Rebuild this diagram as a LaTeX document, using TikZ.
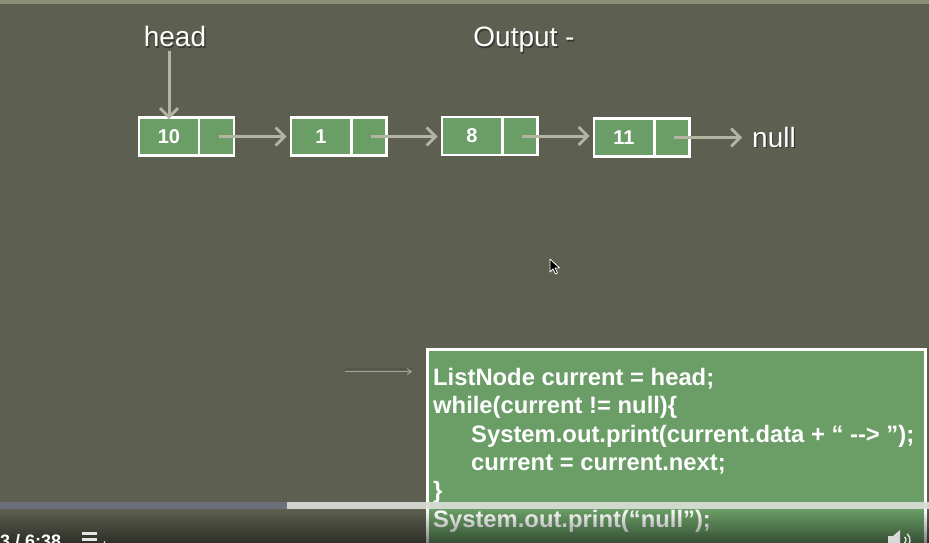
\documentclass[tikz,border=0pt]{standalone}
\usepackage{fontspec}
\setmainfont{Liberation Sans}
\usetikzlibrary{arrows.meta}
\definecolor{bg}{RGB}{93,95,80}
\definecolor{bgtop}{RGB}{140,143,120}
\definecolor{cellgreen}{RGB}{106,158,102}
\definecolor{ptrgray}{RGB}{180,180,162}
\definecolor{barGray}{RGB}{107,111,122}
\definecolor{barLight}{RGB}{218,221,214}
\tikzset{
  cell/.style={draw=white, line width=2.6pt, fill=cellgreen, inner sep=0pt,
    minimum height=38pt, text=white, font=\bfseries\fontsize{20}{22}\selectfont},
  datacell/.style={cell, minimum width=60pt},
  ptrcell/.style={cell, minimum width=35pt},
  ptr/.style={draw=ptrgray, line width=3pt, -{Straight Barb[length=9pt,width=18pt,line width=2.8pt]}},
  label/.style={text=white, inner sep=0pt, font=\fontsize{28}{32}\selectfont},
  shadowlabel/.style={text=black, opacity=0.4, inner sep=0pt, font=\fontsize{28}{32}\selectfont},
  codeline/.style={text=white, inner sep=0pt, anchor=base west, font=\bfseries\fontsize{23.8}{28}\selectfont},
  codebox/.style={draw=white, line width=3pt, fill=cellgreen, inner sep=0pt},
}
\begin{document}
\begin{tikzpicture}[x=1pt,y=-1pt]
\useasboundingbox (0,0) rectangle (929,543);
\clip (0,0) rectangle (929,543);
% background
\fill[bg] (0,0) rectangle (929,543);
\fill[bgtop] (0,0) rectangle (929,4);

% labels (with soft shadow)
\node[shadowlabel, anchor=base] at (176.2,48.2) {head};
\node[shadowlabel, anchor=base] at (525.2,48.2) {Output -};
\node[label, anchor=base] (head) at (175,47) {head};
\node[label, anchor=base] (output) at (524,47) {Output -};

% list nodes
\node[datacell] (n1d) at (169,136.5) {10};
\node[ptrcell]  (n1p) at (216.5,136.5) {};
\node[datacell] (n2d) at (321,136.5) {1};
\node[ptrcell]  (n2p) at (369,136.5) {};
\node[datacell] (n3d) at (472,136) {8};
\node[ptrcell]  (n3p) at (520,136) {};
\node[datacell] (n4d) at (624,137.5) {11};
\node[ptrcell]  (n4p) at (672,137.5) {};
\node[shadowlabel, anchor=west] at (753.2,138.2) {null};
\node[label, anchor=west] (null) at (752,137) {null};

% pointers
\draw[ptr, shorten <=4pt] (head.south -| n1d.north) -- ([yshift=-3pt]n1d.north);
\draw[ptr, shorten <=2pt, shorten >=3pt] (n1p.center) -- (n2d.west |- n1p.center);
\draw[ptr, shorten <=2pt, shorten >=3pt] (n2p.center) -- (n3d.west |- n2p.center);
\draw[ptr, shorten <=2pt, shorten >=3pt] (n3p.center) -- (n4d.west |- n3p.center);
\draw[ptr, shorten <=2pt, shorten >=10pt] (n4p.center) -- (null.west |- n4p.center);

% faded arrow pointing at the code
\coordinate (fa1) at (345,371.5);
\coordinate (fa2) at (412,371.5);
\draw[black!70, opacity=0.5, line width=2pt] ([yshift=3pt]fa1) -- ([yshift=3pt]fa2);
\draw[ptrgray, opacity=0.8, line width=1pt, -{Straight Barb[length=4pt,width=6pt]}] (fa1) -- (fa2);

% code box
\node[codebox, minimum width=498pt, minimum height=210pt, anchor=north west] (code) at (426,348) {};
\node[codeline] (l1) at (433,385.5) {ListNode current = head;};
\node[codeline] (l2) at (433,413.8) {while(current != null)\{};
\node[codeline] (l3) at (471,442.1) {System.out.print(current.data + “ -{}-> ”);};
\node[codeline] (l4) at (471,470.4) {current = current.next;};
\node[codeline] (l5) at (433,498.7) {\}};
\node[codeline] (l6) at (433,527) {System.out.print(“null”);};

% mouse cursor
\coordinate (cur) at (550,259);
\draw[white, fill=black, line width=0.8pt, line join=round]
  (cur) -- ++(0,13) -- ++(3,-3) -- ++(2.5,5) -- ++(2,-1) -- ++(-2.5,-5) -- ++(4.5,0) -- cycle;

% bottom darkening
\foreach \i in {0,...,16} {
  \fill[black, opacity={0.03*\i}] (0,{509+2*\i}) rectangle (929,{511+2*\i});
}

% progress bar
\fill[barGray] (0,501.5) rectangle (287,508.5);
\fill[barLight, opacity=0.92] (287,501.5) rectangle (929,508.5);

% player controls
\node[text=white, inner sep=0pt, anchor=base west, font=\bfseries\fontsize{18}{20}\selectfont] (time) at (0,547) {3 / 6:38};
\fill[white!90!black] (82,532) rectangle (97,535);
\fill[white!90!black] (82,538) rectangle (97,541);
\fill[white!90!black] (82,544) rectangle (97,547);
\fill[white!90!black] (104.5,542) circle (1pt);
\fill[white!85!black] (888,536) -- (893,536) -- (900,530) -- (900,550) -- (893,544) -- (888,544) -- cycle;
\draw[white!85!black, line width=1.5pt] (902,540) ++(-50:4) arc (-50:50:4);
\draw[white!85!black, line width=1.5pt] (902,540) ++(-50:8) arc (-50:50:8);
\end{tikzpicture}
\end{document}
